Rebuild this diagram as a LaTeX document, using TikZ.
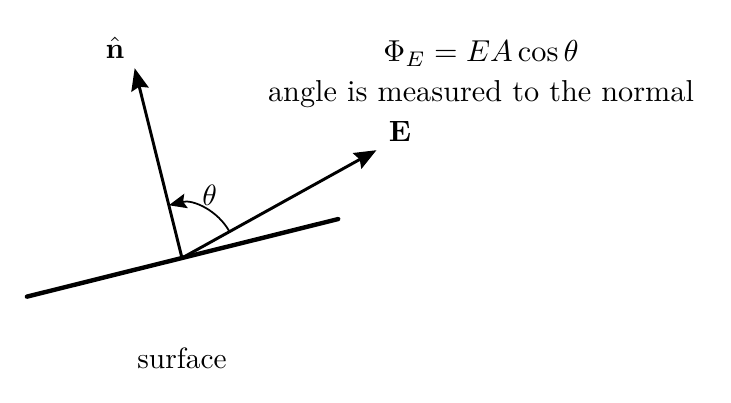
\documentclass[tikz,border=0pt]{standalone}
\usetikzlibrary{positioning,arrows.meta}
\begin{document}
\begin{tikzpicture}[scale=1, line join=round, line cap=round, >={Stealth[length=7.5pt,width=6pt,inset=1pt]}]
			\useasboundingbox (-2.177,-1.734) rectangle (6.567,3.086);
			\def\sang{14}\def\nang{104}\def\eang{29}
			\coordinate (O) at (0,0);
			\coordinate (sl) at (\sang+180:1.912);
			\coordinate (sr) at (\sang:1.925);
			\coordinate (ntip) at (\nang:2.34);
			\coordinate (etip) at (\eang:2.66);
			\draw[line width=1.5pt] (sl)--(sr);
			\draw[->,line width=1pt] (O)--(ntip);
			\draw[->,line width=1pt] (O)--(etip);
			\draw[-{Stealth[length=6pt,width=5pt,inset=1pt]},line width=0.6pt] (\eang:0.65) arc (\eang:\nang:0.65);
			\node (nlab) at (-0.801,2.512) {$\hat{\mathbf{n}}$};
			\node (elab) at (2.608,1.519) {$\mathbf{E}$};
			\node (th) at (0.33,0.75) {$\theta$};
			\node[align=center,scale=1.03] (flux) at (3.577,2.2) {$\Phi_E=EA\cos\theta$\\[1pt]angle is measured to the normal};
			\node (surf) at (0,-1.2) {surface};
		\end{tikzpicture}
\end{document}
